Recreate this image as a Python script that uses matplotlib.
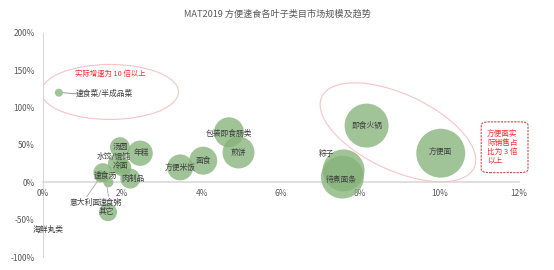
import matplotlib.pyplot as plt
from matplotlib.patches import Ellipse, FancyBboxPatch
from matplotlib.transforms import IdentityTransform
from matplotlib.ticker import FuncFormatter

plt.rcParams['font.family'] = ['Noto Sans CJK SC', 'DejaVu Sans']

# share of sales (x, %), growth (y, %), relative market size (bubble area)
categories = ['速食菜/半成品菜', '包装即食肠类', '煎饼', '面食', '方便米饭',
              '汤圆', '年糕', '水饺/馄饨', '冷面', '速食汤', '肉制品',
              '意大利面', '速食粥', '其它', '海鲜丸类',
              '即食火锅', '方便面', '粽子', '待煮面条']
share = [0.4, 4.69, 4.93, 4.04, 3.46,
         1.94, 2.45, 1.89, 2.0, 1.51, 2.2,
         1.45, 1.65, 1.64, 0.2,
         8.16, 10.03, 7.58, 7.55]
growth = [120, 67, 40, 29, 20,
          47, 39, 25, 20, 13, 5,
          8, 0, -40, -63,
          76, 39, 16, 7]
market = [16, 225, 256, 196, 169,
          100, 160, 100, 81, 90, 100,
          36, 25, 81, 4,
          484, 600, 440, 460]

# label offsets in points (dx, dy) relative to bubble centre
label_off = {'速食菜/半成品菜': (33, -1), '水饺/馄饨': (-3, 4.5), '年糕': (1, 0),
             '冷面': (-1, 1), '速食汤': (2, -2), '肉制品': (2, 0),
             '意大利面': (-11.5, -19), '速食粥': (1, -14.5), '其它': (-1, 0),
             '海鲜丸类': (-2, 0), '粽子': (-12, 12), '待煮面条': (-1, -2),
             '包装即食肠类': (0, -1)}

fig = plt.figure(figsize=(5.54, 2.70), dpi=100)
ax = fig.add_axes([0.0776, 0.048, 0.859, 0.83])

green = '#86b37a'
s = [m * 2.07 for m in market]
ax.scatter(share, growth, s=s, color=green, alpha=0.78, edgecolors='none', zorder=3)

for name, x, y in zip(categories, share, growth):
    dx, dy = label_off.get(name, (0, 0))
    ax.annotate(name, (x, y), xytext=(dx, dy), textcoords='offset points',
                ha='center', va='center', fontsize=5.6, color='#404040', zorder=5)

# leader lines
ax.annotate('', (0.5, 120), xytext=(12.5, -1), textcoords='offset points',
            arrowprops=dict(arrowstyle='-', color='#999999', lw=0.7,
                            shrinkA=0, shrinkB=0))
ax.annotate('', (1.42, 5), xytext=(-9, -13), textcoords='offset points',
            arrowprops=dict(arrowstyle='-', color='#aaaaaa', lw=0.6,
                            shrinkA=0, shrinkB=0))
ax.annotate('', (1.6, -2), xytext=(1.5, -9), textcoords='offset points',
            arrowprops=dict(arrowstyle='-', color='#aaaaaa', lw=0.6,
                            shrinkA=0, shrinkB=0))

ax.set_xlim(0, 12)
ax.set_ylim(-100, 200)
ax.set_xticks([0, 2, 4, 6, 8, 10, 12])
ax.set_yticks([-100, -50, 0, 50, 100, 150, 200])
ax.yaxis.set_major_formatter(FuncFormatter(lambda v, p: '%d%%' % v))
ax.xaxis.set_major_formatter(FuncFormatter(lambda v, p: '%d%%' % v))

for sp in ['top', 'right']:
    ax.spines[sp].set_visible(False)
ax.spines['bottom'].set_position(('data', 0))
ax.spines['bottom'].set_color('#d9d9d9')
ax.spines['bottom'].set_linewidth(1.2)
ax.spines['left'].set_color('#d9d9d9')
ax.spines['left'].set_linewidth(0.8)
ax.spines['left'].set_zorder(1)
ax.spines['bottom'].set_zorder(1)
ax.tick_params(length=0, labelsize=6, colors='#595959')
ax.tick_params(axis='x', pad=5)
ax.tick_params(axis='y', pad=6)

fig.text(0.5, 0.948, 'MAT2019 方便速食各叶子类目市场规模及趋势',
         ha='center', va='center', fontsize=6.6, color='#595959')

# callout ellipses (drawn in pixel space so they keep their shape)
fig.canvas.draw()
c1 = ax.transData.transform((1.69, 121))
ax.add_patch(Ellipse(c1, 137, 55, angle=0, transform=IdentityTransform(),
                     fill=False, ec='#f7c4c4', lw=0.8, zorder=2))
c2 = ax.transData.transform((8.95, 67))
ax.add_patch(Ellipse(c2, 168, 76, angle=-25, transform=IdentityTransform(),
                     fill=False, ec='#f7c4c4', lw=0.8, zorder=2))

ax.text(1.69, 145, '实际增速为 10 倍以上', ha='center', va='center',
        fontsize=5.3, color='#ff2a2a', zorder=5)

box = FancyBboxPatch((11.05, 13), 1.18, 68, boxstyle='round,pad=0,rounding_size=0.22',
                     mutation_aspect=20, fill=False, ec='#c0504d', ls=(0, (2, 1)),
                     lw=0.8, transform=ax.transData, clip_on=False)
ax.add_patch(box)
ax.text(11.2, 47, '方便面实\n际销售占\n比为 3 倍\n以上', ha='left', va='center',
        fontsize=5.5, color='#ff2a2a', linespacing=1.15, clip_on=False)

fig.savefig('out.png', dpi=100)
